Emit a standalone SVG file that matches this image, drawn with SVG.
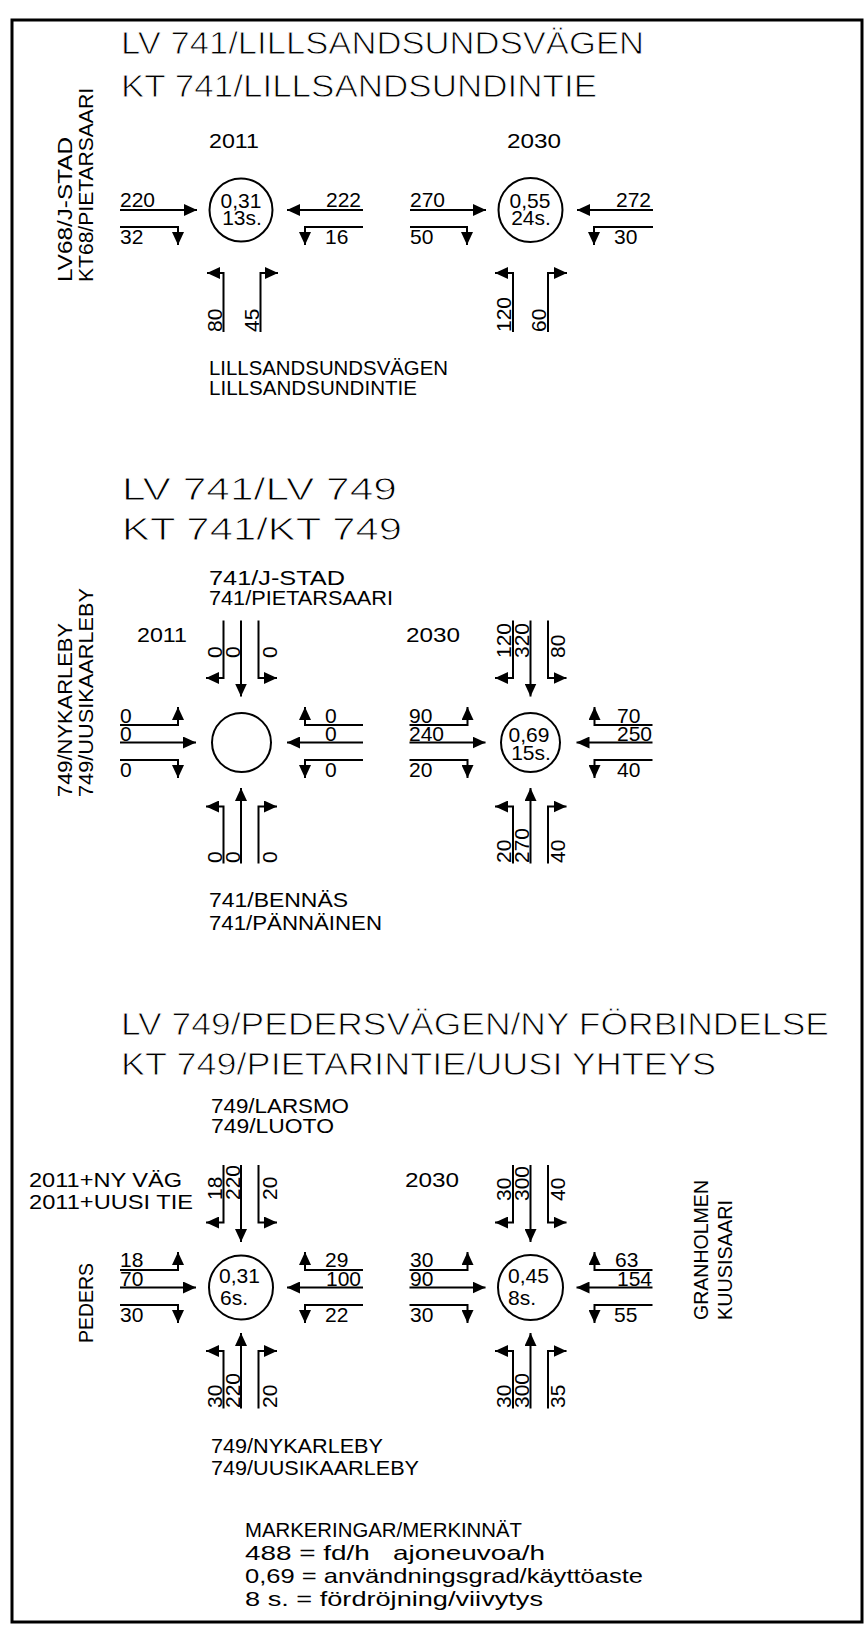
<svg xmlns="http://www.w3.org/2000/svg" width="865" height="1625" viewBox="0 0 865 1625">
<defs>
<style>
text{font-family:"Liberation Sans",Arial,sans-serif;fill:#000}
.ti{font-size:32px;stroke:#fff;stroke-width:0.9px}
.lb{font-size:21px}
.m{text-anchor:middle}
.ar{fill:none;stroke:#000;stroke-width:2;marker-end:url(#ah)}
.ci{fill:none;stroke:#000;stroke-width:2}
</style>
<marker id="ah" viewBox="0 0 13 12" refX="13" refY="6" markerWidth="13" markerHeight="12" markerUnits="userSpaceOnUse" orient="auto"><path d="M0,0L13,6L0,12z" fill="#000"/></marker>
</defs>
<rect width="865" height="1625" fill="#fff"/>
<rect id="frame" x="12" y="20" width="850" height="1602" fill="none" stroke="#000" stroke-width="3"/>

<g id="section1-labels">
<text class="ti" x="121" y="54" textLength="523" lengthAdjust="spacingAndGlyphs">LV 741/LILLSANDSUNDSVÄGEN</text>
<text class="ti" x="121" y="97" textLength="476" lengthAdjust="spacingAndGlyphs">KT 741/LILLSANDSUNDINTIE</text>
<text class="lb" transform="translate(72,282) rotate(-90)" textLength="145" lengthAdjust="spacingAndGlyphs">LV68/J-STAD</text>
<text class="lb" transform="translate(93,282) rotate(-90)" textLength="194" lengthAdjust="spacingAndGlyphs">KT68/PIETARSAARI</text>
<text class="lb" x="209" y="148" textLength="50" lengthAdjust="spacingAndGlyphs">2011</text>
<text class="lb" x="507" y="148" textLength="54" lengthAdjust="spacingAndGlyphs">2030</text>
<text class="lb" x="209" y="375" textLength="239" lengthAdjust="spacingAndGlyphs">LILLSANDSUNDSVÄGEN</text>
<text class="lb" x="209" y="395" textLength="208" lengthAdjust="spacingAndGlyphs">LILLSANDSUNDINTIE</text>
</g>

<g id="s1-2011">
<circle class="ci" cx="241" cy="210" r="31.5"/>
<text class="lb m" x="241" y="208">0,31</text>
<text class="lb m" x="242" y="225">13s.</text>
<text class="lb" x="120" y="207">220</text>
<text class="lb" x="120" y="244">32</text>
<text class="lb" x="326" y="207">222</text>
<text class="lb" x="325" y="244">16</text>
<text class="lb" transform="translate(222,332) rotate(-90)">80</text>
<text class="lb" transform="translate(258.5,332) rotate(-90)">45</text>
</g>
<g id="s1-2030">
<circle class="ci" cx="530.5" cy="210" r="32"/>
<text class="lb m" x="530" y="208">0,55</text>
<text class="lb m" x="531" y="225">24s.</text>
<text class="lb" x="410" y="207">270</text>
<text class="lb" x="410" y="244">50</text>
<text class="lb" x="616" y="207">272</text>
<text class="lb" x="614" y="244">30</text>
<text class="lb" transform="translate(511,332) rotate(-90)">120</text>
<text class="lb" transform="translate(546,332) rotate(-90)">60</text>
</g>

<g id="section2-labels">
<text class="ti" x="122" y="500" textLength="275" lengthAdjust="spacingAndGlyphs">LV 741/LV 749</text>
<text class="ti" x="122" y="540" textLength="280" lengthAdjust="spacingAndGlyphs">KT 741/KT 749</text>
<text class="lb" x="209" y="585" textLength="136" lengthAdjust="spacingAndGlyphs">741/J-STAD</text>
<text class="lb" x="209" y="605" textLength="184" lengthAdjust="spacingAndGlyphs">741/PIETARSAARI</text>
<text class="lb" x="137" y="642" textLength="50" lengthAdjust="spacingAndGlyphs">2011</text>
<text class="lb" x="406" y="642" textLength="54" lengthAdjust="spacingAndGlyphs">2030</text>
<text class="lb" transform="translate(72,797) rotate(-90)" textLength="174" lengthAdjust="spacingAndGlyphs">749/NYKARLEBY</text>
<text class="lb" transform="translate(93,797) rotate(-90)" textLength="209" lengthAdjust="spacingAndGlyphs">749/UUSIKAARLEBY</text>
<text class="lb" x="209" y="907" textLength="139" lengthAdjust="spacingAndGlyphs">741/BENNÄS</text>
<text class="lb" x="209" y="930" textLength="173" lengthAdjust="spacingAndGlyphs">741/PÄNNÄINEN</text>
</g>

<g id="s2-2011">
<circle class="ci" cx="241.5" cy="742.5" r="29.5"/>
<text class="lb" x="120" y="723">0</text>
<text class="lb" x="120" y="741">0</text>
<text class="lb" x="120" y="777">0</text>
<text class="lb" x="325" y="723">0</text>
<text class="lb" x="325" y="741">0</text>
<text class="lb" x="325" y="777">0</text>
<text class="lb" transform="translate(222,658) rotate(-90)">0</text>
<text class="lb" transform="translate(239.5,658) rotate(-90)">0</text>
<text class="lb" transform="translate(277,658) rotate(-90)">0</text>
<text class="lb" transform="translate(222,863) rotate(-90)">0</text>
<text class="lb" transform="translate(239.5,863) rotate(-90)">0</text>
<text class="lb" transform="translate(277,863) rotate(-90)">0</text>
</g>
<g id="s2-2030">
<circle class="ci" cx="530.5" cy="742.5" r="29.5"/>
<text class="lb m" x="529" y="741.5">0,69</text>
<text class="lb m" x="531" y="760">15s.</text>
<text class="lb" x="409" y="723">90</text>
<text class="lb" x="409" y="741">240</text>
<text class="lb" x="409" y="777">20</text>
<text class="lb" x="617" y="723">70</text>
<text class="lb" x="617" y="741">250</text>
<text class="lb" x="617" y="777">40</text>
<text class="lb" transform="translate(511,658) rotate(-90)">120</text>
<text class="lb" transform="translate(529,658) rotate(-90)">320</text>
<text class="lb" transform="translate(565,658) rotate(-90)">80</text>
<text class="lb" transform="translate(511,863) rotate(-90)">20</text>
<text class="lb" transform="translate(529,863) rotate(-90)">270</text>
<text class="lb" transform="translate(565,863) rotate(-90)">40</text>
</g>

<g id="section3-labels">
<text class="ti" x="121" y="1035" textLength="708" lengthAdjust="spacingAndGlyphs">LV 749/PEDERSVÄGEN/NY FÖRBINDELSE</text>
<text class="ti" x="121" y="1075" textLength="595" lengthAdjust="spacingAndGlyphs">KT 749/PIETARINTIE/UUSI YHTEYS</text>
<text class="lb" x="211" y="1113" textLength="138" lengthAdjust="spacingAndGlyphs">749/LARSMO</text>
<text class="lb" x="211" y="1133" textLength="123" lengthAdjust="spacingAndGlyphs">749/LUOTO</text>
<text class="lb" x="29" y="1187" textLength="153" lengthAdjust="spacingAndGlyphs">2011+NY VÄG</text>
<text class="lb" x="29" y="1209" textLength="164" lengthAdjust="spacingAndGlyphs">2011+UUSI TIE</text>
<text class="lb" x="405" y="1187" textLength="54" lengthAdjust="spacingAndGlyphs">2030</text>
<text class="lb" transform="translate(93,1343) rotate(-90)" textLength="80" lengthAdjust="spacingAndGlyphs">PEDERS</text>
<text class="lb" transform="translate(708,1320) rotate(-90)" textLength="140" lengthAdjust="spacingAndGlyphs">GRANHOLMEN</text>
<text class="lb" transform="translate(732,1320) rotate(-90)" textLength="120" lengthAdjust="spacingAndGlyphs">KUUSISAARI</text>
<text class="lb" x="211" y="1453" textLength="172" lengthAdjust="spacingAndGlyphs">749/NYKARLEBY</text>
<text class="lb" x="211" y="1475" textLength="208" lengthAdjust="spacingAndGlyphs">749/UUSIKAARLEBY</text>
</g>

<g id="s3-2011">
<circle class="ci" cx="241" cy="1287.5" r="32"/>
<text class="lb" x="219" y="1283">0,31</text>
<text class="lb" x="220" y="1305">6s.</text>
<text class="lb" x="120" y="1267">18</text>
<text class="lb" x="120" y="1286">70</text>
<text class="lb" x="120" y="1322">30</text>
<text class="lb" x="325" y="1267">29</text>
<text class="lb" x="326" y="1286">100</text>
<text class="lb" x="325" y="1322">22</text>
<text class="lb" transform="translate(222,1200) rotate(-90)">18</text>
<text class="lb" transform="translate(239.5,1200) rotate(-90)">220</text>
<text class="lb" transform="translate(277,1200) rotate(-90)">20</text>
<text class="lb" transform="translate(222,1408) rotate(-90)">30</text>
<text class="lb" transform="translate(239.5,1408) rotate(-90)">220</text>
<text class="lb" transform="translate(277,1408) rotate(-90)">20</text>
</g>
<g id="s3-2030">
<circle class="ci" cx="530.5" cy="1287.5" r="32.5"/>
<text class="lb" x="508" y="1283">0,45</text>
<text class="lb" x="508" y="1305">8s.</text>
<text class="lb" x="410" y="1267">30</text>
<text class="lb" x="410" y="1286">90</text>
<text class="lb" x="410" y="1322">30</text>
<text class="lb" x="615" y="1267">63</text>
<text class="lb" x="617" y="1286">154</text>
<text class="lb" x="614" y="1322">55</text>
<text class="lb" transform="translate(511,1201) rotate(-90)">30</text>
<text class="lb" transform="translate(529,1201) rotate(-90)">300</text>
<text class="lb" transform="translate(565,1201) rotate(-90)">40</text>
<text class="lb" transform="translate(511,1408) rotate(-90)">30</text>
<text class="lb" transform="translate(529,1408) rotate(-90)">300</text>
<text class="lb" transform="translate(565,1408) rotate(-90)">35</text>
</g>

<g id="legend">
<text class="lb" x="245" y="1537" textLength="277" lengthAdjust="spacingAndGlyphs">MARKERINGAR/MERKINNÄT</text>
<text class="lb" x="245" y="1560" textLength="300" lengthAdjust="spacingAndGlyphs" style="white-space:pre">488 = fd/h   ajoneuvoa/h</text>
<text class="lb" x="245" y="1583" textLength="398" lengthAdjust="spacingAndGlyphs">0,69 = användningsgrad/käyttöaste</text>
<text class="lb" x="245" y="1606" textLength="298" lengthAdjust="spacingAndGlyphs">8 s. = fördröjning/viivytys</text>
</g>

<g id="connectors">
<path class="ar" d="M120,210H197"/>
<path class="ar" d="M120,227H178V245"/>
<path class="ar" d="M363,210H287"/>
<path class="ar" d="M363,227H305V245"/>
<path class="ar" d="M223.5,332V273H207"/>
<path class="ar" d="M260.5,332V273H278"/>

<path class="ar" d="M410,210H486"/>
<path class="ar" d="M410,227H467V245"/>
<path class="ar" d="M653,210H577"/>
<path class="ar" d="M653,227H594V245"/>
<path class="ar" d="M513,332V273H495"/>
<path class="ar" d="M548,332V273H567"/>

<path class="ar" d="M120,725H178V707"/>
<path class="ar" d="M120,742.5H196"/>
<path class="ar" d="M120,760H178V778"/>
<path class="ar" d="M363,725H305V707"/>
<path class="ar" d="M363,742.5H287"/>
<path class="ar" d="M363,760H305V778"/>
<path class="ar" d="M223.5,620.5V678H206"/>
<path class="ar" d="M241,620.5V696.5"/>
<path class="ar" d="M258.5,620.5V678H277"/>
<path class="ar" d="M223.5,863.5V806.5H206"/>
<path class="ar" d="M241,863.5V788"/>
<path class="ar" d="M258.5,863.5V806.5H277"/>

<path class="ar" d="M409.5,725H467.5V707"/>
<path class="ar" d="M409.5,742.5H485.5"/>
<path class="ar" d="M409.5,760H467.5V778"/>
<path class="ar" d="M652.5,725H594.5V707"/>
<path class="ar" d="M652.5,742.5H576.5"/>
<path class="ar" d="M652.5,760H594.5V778"/>
<path class="ar" d="M513,620.5V678H495"/>
<path class="ar" d="M530.5,620.5V696.5"/>
<path class="ar" d="M548,620.5V678H566.5"/>
<path class="ar" d="M513,863.5V806.5H495"/>
<path class="ar" d="M530.5,863.5V788"/>
<path class="ar" d="M548,863.5V806.5H566.5"/>

<path class="ar" d="M120,1270H178V1252"/>
<path class="ar" d="M120,1287.5H196"/>
<path class="ar" d="M120,1305H178V1323"/>
<path class="ar" d="M363,1270H305V1252"/>
<path class="ar" d="M363,1287.5H287"/>
<path class="ar" d="M363,1305H305V1323"/>
<path class="ar" d="M223.5,1165V1222.5H206"/>
<path class="ar" d="M241,1165V1242"/>
<path class="ar" d="M258.5,1165V1222.5H277"/>
<path class="ar" d="M223.5,1408.5V1351H206"/>
<path class="ar" d="M241,1408.5V1333"/>
<path class="ar" d="M258.5,1408.5V1351H277"/>

<path class="ar" d="M409.5,1270H467.5V1252"/>
<path class="ar" d="M409.5,1287.5H485.5"/>
<path class="ar" d="M409.5,1305H467.5V1323"/>
<path class="ar" d="M652.5,1270H594.5V1252"/>
<path class="ar" d="M652.5,1287.5H576.5"/>
<path class="ar" d="M652.5,1305H594.5V1323"/>
<path class="ar" d="M513,1165V1222.5H495"/>
<path class="ar" d="M530.5,1165V1242"/>
<path class="ar" d="M548,1165V1222.5H566.5"/>
<path class="ar" d="M513,1408.5V1351H495"/>
<path class="ar" d="M530.5,1408.5V1333"/>
<path class="ar" d="M548,1408.5V1351H566.5"/>
</g>
</svg>
